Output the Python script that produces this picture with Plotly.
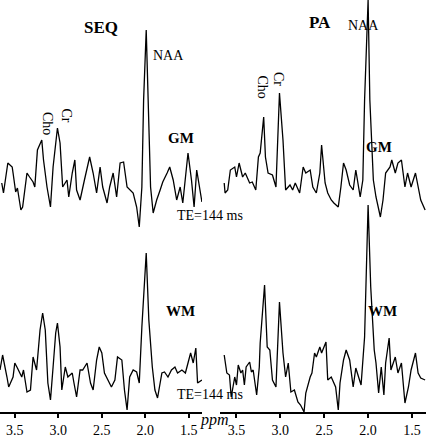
import plotly.graph_objects as go

# spectra: chemical shift (ppm) and signal (arbitrary units)
seq_gm_ppm = [3.65, 3.63, 3.58, 3.53, 3.52, 3.49, 3.47, 3.43, 3.41, 3.36, 3.33, 3.29, 3.27, 3.24, 3.19, 3.17,
              3.13, 3.09, 3.06, 3.01, 2.98, 2.95, 2.90, 2.88, 2.84, 2.81, 2.79, 2.75, 2.70, 2.64, 2.60, 2.56,
              2.52, 2.49, 2.44, 2.41, 2.37, 2.33, 2.29, 2.25, 2.21, 2.18, 2.14, 2.10, 2.07, 2.04, 2.02, 1.99,
              1.97, 1.94, 1.91, 1.87, 1.83, 1.80, 1.75, 1.72, 1.68, 1.64, 1.60, 1.57, 1.51, 1.47, 1.44, 1.41, 1.35]
seq_gm_sig = [2, -8, 22, 18, 12, -7, -3, -25, -22, 12, 8, 3, -2, 35, 45, 25,
              -2, -22, 18, 57, 42, -2, 5, -12, 12, 25, -5, -15, 5, 28, 12, -8,
              18, -2, -18, -2, 12, -12, 22, 23, -2, -5, -8, -22, -42, -2, 85, 155,
              85, -2, -28, -15, -5, 3, 12, 18, 5, -15, -2, -18, 32, 5, -22, 15, -17]

pa_gm_ppm = [3.64, 3.63, 3.60, 3.57, 3.52, 3.50, 3.47, 3.43, 3.40, 3.35, 3.32, 3.28, 3.25, 3.23, 3.19, 3.17,
             3.14, 3.09, 3.05, 3.01, 2.97, 2.94, 2.89, 2.86, 2.83, 2.78, 2.74, 2.71, 2.66, 2.63, 2.59, 2.55,
             2.53, 2.49, 2.46, 2.42, 2.39, 2.34, 2.31, 2.28, 2.25, 2.21, 2.17, 2.14, 2.09, 2.06, 2.04, 2.00,
             1.98, 1.94, 1.91, 1.86, 1.83, 1.80, 1.75, 1.73, 1.69, 1.66, 1.62, 1.58, 1.55, 1.51, 1.46, 1.43, 1.40, 1.35]
pa_gm_sig = [2, -8, -5, 15, 18, 8, 22, 8, 12, 2, 3, -5, 28, 32, 68, 28,
             12, 10, -2, 92, 45, -5, 0, -5, 2, -8, 18, 12, 15, -2, -8, 12,
             40, 2, -8, -15, -18, -22, -2, 22, 15, 0, -5, 15, -12, 5, 85, 185,
             85, 5, -12, -32, -15, 12, 18, 25, 12, 22, 25, -2, 12, -2, 12, -2, -15, -25]

seq_wm_ppm = [3.67, 3.64, 3.59, 3.57, 3.52, 3.50, 3.47, 3.42, 3.40, 3.36, 3.32, 3.29, 3.25, 3.21, 3.18, 3.15,
              3.12, 3.09, 3.06, 3.03, 3.01, 2.98, 2.96, 2.92, 2.89, 2.84, 2.82, 2.79, 2.75, 2.72, 2.67, 2.63,
              2.60, 2.56, 2.53, 2.50, 2.47, 2.43, 2.39, 2.35, 2.32, 2.27, 2.24, 2.21, 2.18, 2.14, 2.10, 2.07,
              2.04, 1.99, 1.96, 1.92, 1.89, 1.86, 1.81, 1.78, 1.74, 1.70, 1.66, 1.63, 1.58, 1.54, 1.51, 1.48,
              1.45, 1.42, 1.40, 1.35]
seq_wm_sig = [5, 20, -2, -12, -2, 12, 7, -2, 5, -17, -15, 18, 5, 45, 62, 45,
              -8, -25, 8, 42, 52, 28, -15, 8, -2, 2, -8, -22, 5, 5, 12, -8,
              -15, 15, 28, 22, 2, -5, -12, -5, 18, 15, -15, -35, -2, 5, 3, -8,
              48, 122, 55, 8, -15, -23, 2, 3, -2, 5, 8, 2, 5, 2, 12, 22,
              12, 27, -8, -5]

pa_wm_ppm = [3.64, 3.61, 3.58, 3.56, 3.52, 3.50, 3.48, 3.45, 3.43, 3.41, 3.39, 3.35, 3.33, 3.31, 3.27, 3.24,
             3.23, 3.18, 3.15, 3.12, 3.09, 3.05, 3.01, 2.97, 2.94, 2.91, 2.88, 2.84, 2.80, 2.77, 2.73, 2.71,
             2.66, 2.64, 2.61, 2.59, 2.55, 2.53, 2.48, 2.46, 2.42, 2.39, 2.37, 2.34, 2.32, 2.28, 2.25, 2.21,
             2.17, 2.14, 2.11, 2.08, 2.04, 2.00, 1.97, 1.93, 1.91, 1.88, 1.85, 1.82, 1.80, 1.76, 1.74, 1.69,
             1.66, 1.62, 1.58, 1.54, 1.51, 1.46, 1.43, 1.40, 1.35]
pa_wm_sig = [20, 2, 0, -22, -2, -10, 10, 2, 5, -10, 8, 13, 3, 5, -20, 8,
             32, 90, 28, 25, -5, -12, 73, 22, -2, 12, -17, -15, -27, -30, -37, -18,
             -2, 2, 22, 18, 28, 22, 33, -5, -2, -8, -12, -35, -8, 15, 25, 15,
             -12, 7, -2, -10, 38, 170, 88, 25, 12, -18, 8, -20, 12, 37, 5, 18,
             2, 12, -28, -12, 5, 22, 2, -3, -5]

tick_vals = [3.5, 3.0, 2.5, 2.0, 1.5]
gm_base = 227
wm_base = 37

line = dict(color="black", width=1.3)
fig = go.Figure()
fig.add_trace(go.Scatter(x=seq_gm_ppm, y=[v + gm_base for v in seq_gm_sig], mode="lines", line=line))
fig.add_trace(go.Scatter(x=seq_wm_ppm, y=[v + wm_base for v in seq_wm_sig], mode="lines", line=line))
fig.add_trace(go.Scatter(x=pa_gm_ppm, y=[v + gm_base for v in pa_gm_sig], mode="lines", line=line,
                         xaxis="x2", yaxis="y2"))
fig.add_trace(go.Scatter(x=pa_wm_ppm, y=[v + wm_base for v in pa_wm_sig], mode="lines", line=line,
                         xaxis="x2", yaxis="y2"))

xax = dict(showline=True, linecolor="black", linewidth=2, ticks="outside", ticklen=4, tickwidth=1.5,
           tickcolor="black", tickvals=tick_vals, ticktext=["3.5", "3.0", "2.5", "2.0", "1.5"],
           showgrid=False, zeroline=False, tickfont=dict(size=14, color="black"))
yax = dict(range=[0, 412], visible=False, showgrid=False)

fig.update_layout(
    width=426, height=440, margin=dict(l=0, r=0, t=0, b=28),
    plot_bgcolor="white", paper_bgcolor="white", showlegend=False,
    font=dict(family="Liberation Serif", color="black"),
    xaxis=dict(xax, domain=[0, 0.474], range=[3.67, 1.35]),
    xaxis2=dict(xax, domain=[0.516, 1], range=[3.69, 1.34], anchor="y2"),
    yaxis=yax,
    yaxis2=dict(yax, anchor="x2"),
)

H = 412.0


def note(text, px, py, size=14, angle=0, **kw):
    fig.add_annotation(text=text, xref="paper", yref="paper", x=px / 426, y=1 - py / H,
                       showarrow=False, textangle=angle, font=dict(size=size), **kw)


note("<b>SEQ</b>", 82, 16, size=17)
note("<b>PA</b>", 333, 11, size=17)
note("NAA", 168, 46)
note("NAA", 381, 16)
note("Cho", 38, 110, angle=90)
note("Cr", 57, 106, angle=90)
note("Cho", 262, 73, angle=90)
note("Cr", 279, 70, angle=90)
note("<b>GM</b>", 181, 138, size=15)
note("<b>GM</b>", 394, 137, size=15)
note("<b>WM</b>", 180, 321, size=15)
note("<b>WM</b>", 399, 321, size=15)
note("TE=144 ms", 210, 215)
note("TE=144 ms", 210, 404)
note("<i>ppm</i>", 215, 431, size=16)

fig.write_html("out.html", config={"displayModeBar": False},
               post_script="document.body.style.margin='0';document.body.style.overflow='hidden';")
